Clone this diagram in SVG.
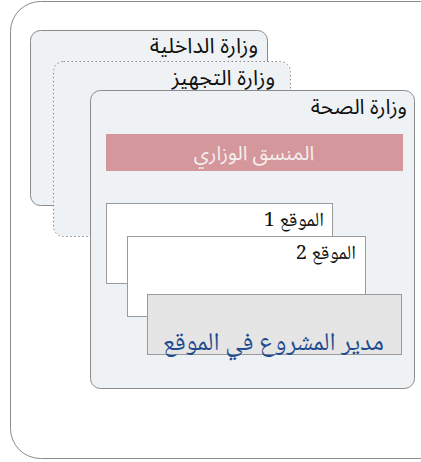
<svg xmlns="http://www.w3.org/2000/svg" width="421" height="462" viewBox="0 0 421 462">
  <style>
    .ministry { fill: #eff2f5; stroke: #8a8a8a; stroke-width: 1; }
    .dotted { stroke-dasharray: 1.5 2.5; }
    .site { fill: #ffffff; stroke: #9a9a9a; stroke-width: 1; }
    .sans { font-family: "Noto Sans Arabic", "Noto Sans", "DejaVu Sans", sans-serif; }
    .naskh { font-family: "Noto Naskh Arabic", "Amiri", "DejaVu Sans", serif; }
    .title { font-size: 21.5px; fill: #111; }
    text { direction: rtl; text-anchor: start; }
  </style>

  <!-- outer frame -->
  <rect x="10.5" y="1.5" width="440" height="457" rx="30" fill="#ffffff" stroke="#8a8a8a"/>

  <g id="interior">
    <rect class="ministry" x="30.5" y="30.5" width="237" height="175" rx="10"/>
    <text class="sans title" x="258" y="53">وزارة الداخلية</text>
  </g>

  <g id="equipment">
    <rect class="ministry dotted" x="53.5" y="61.5" width="237" height="175" rx="10"/>
    <text class="sans title" x="275" y="84.5">وزارة التجهيز</text>
  </g>

  <g id="health">
    <rect class="ministry" x="90.5" y="90.5" width="324" height="298" rx="10"/>
    <text class="sans" x="407" y="114" font-size="21" fill="#111">وزارة الصحة</text>
  </g>

  <g id="coordinator">
    <rect x="106" y="134" width="297" height="37" fill="#d4979c"/>
    <text class="sans" x="254" y="160" font-size="20" fill="#f6eeee" style="text-anchor: middle">المنسق الوزاري</text>
  </g>

  <g id="site1">
    <rect class="site" x="106.5" y="203.5" width="226" height="80"/>
    <text class="naskh" x="324" y="226" font-size="20" fill="#111">الموقع 1</text>
  </g>

  <g id="site2">
    <rect class="site" x="127.5" y="236.5" width="238" height="80"/>
    <text class="naskh" x="356" y="259" font-size="20" fill="#111">الموقع 2</text>
  </g>

  <g id="site-manager">
    <rect x="147.5" y="294.5" width="254" height="60" fill="#e5e5e5" stroke="#9a9a9a"/>
    <text class="naskh" x="384" y="350" font-size="25.5" fill="#1d4b8f">مدير المشروع في الموقع</text>
  </g>

  <g id="connectors"/>
</svg>
